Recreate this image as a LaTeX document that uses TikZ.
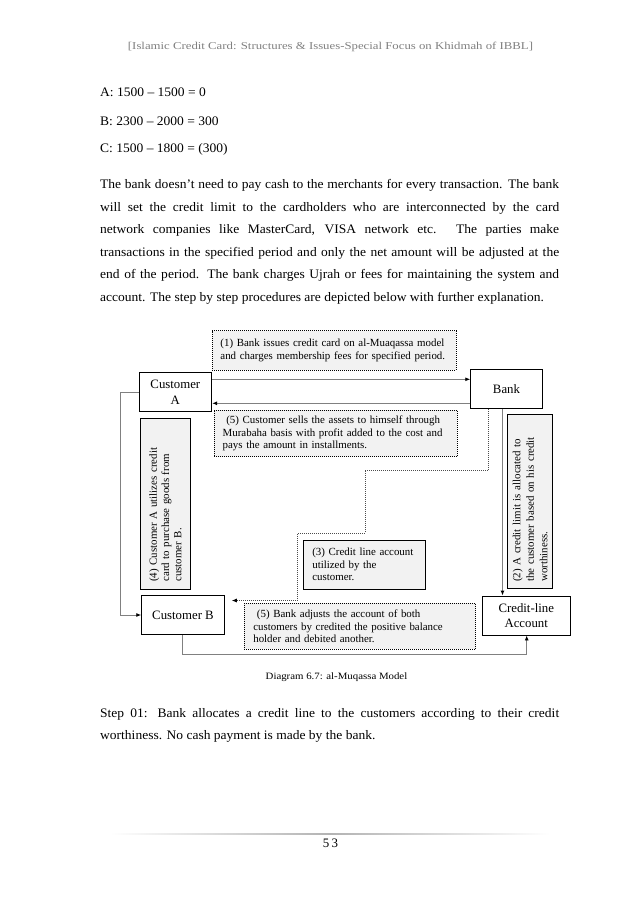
\documentclass[tikz,border=0pt]{standalone}
\usepackage{fontspec}
\setmainfont{Liberation Serif}
\newfontfamily\bodyfont[FakeStretch=1.04]{Liberation Serif}
\usepackage{graphicx}
\usetikzlibrary{arrows.meta}
\definecolor{boxfill}{HTML}{F2F2F2}
\definecolor{conngray}{HTML}{808080}
\definecolor{headgray}{HTML}{808080}
\tikzset{
  entity/.style={draw=black, line width=0.9pt, fill=white, inner sep=0pt, align=center, font=\fontsize{12.8}{15.5}\selectfont},
  note/.style={draw=black, line width=0.7pt, fill=boxfill, align=left, font=\fontsize{10.9}{12.6}\selectfont, inner ysep=0pt},
  dotnote/.style={note, dash pattern=on 1pt off 1pt, line width=0.8pt},
  conn/.style={draw=conngray, line width=0.9pt, -{Latex[length=5pt,width=4pt,color=black]}},
  dconn/.style={draw=black!70, dash pattern=on 1pt off 1pt, line width=0.8pt, -{Latex[length=5pt,width=4pt,color=black]}},
  bodyline/.style={anchor=base west, inner sep=0pt, font=\bodyfont\fontsize{13}{15}\selectfont},
}
\begin{document}
\begin{tikzpicture}[x=1pt,y=-1pt]
\useasboundingbox[fill=white] (0,0) rectangle (638,903);

% header
\node[anchor=base, inner sep=0pt, text=headgray, font=\fontsize{10.5}{12}\selectfont] (hdr) at (330.5,49.5)
  {\resizebox{405pt}{\height}{[Islamic Credit Card: Structures \& Issues-Special Focus on Khidmah of IBBL]}};

% body text
\node[bodyline] (la) at (100,96) {A: 1500 – 1500 = 0};
\node[bodyline] (lb) at (100,125) {B: 2300 – 2000 = 300};
\node[bodyline] (lc) at (100,152.5) {C: 1500 – 1800 = (300)};
\node[bodyline] (p1) at (100,188.5) {\makebox[459pt][s]{The bank doesn’t need to pay cash to the merchants for every transaction. The bank}};
\node[bodyline] (p2) at (100,211) {\makebox[459pt][s]{will set the credit limit to the cardholders who are interconnected by the card}};
\node[bodyline] (p3) at (100,233.5) {\makebox[459pt][s]{network companies like MasterCard, VISA network etc. The parties make}};
\node[bodyline] (p4) at (100,256) {\makebox[459pt][s]{transactions in the specified period and only the net amount will be adjusted at the}};
\node[bodyline] (p5) at (100,278.5) {\makebox[459pt][s]{end of the period. The bank charges Ujrah or fees for maintaining the system and}};
\node[bodyline] (p6) at (100,301) {account. The step by step procedures are depicted below with further explanation.};

% entities
\node[entity, minimum width=72.7, minimum height=39] (cA) at (175.35,392.2) {Customer\\A};
\node[entity, minimum width=71.6, minimum height=39] (bank) at (506.5,388.8) {Bank};
\node[entity, minimum width=82.6, minimum height=38.6] (cB) at (183,615) {Customer B};
\node[entity, minimum width=87.5, minimum height=39] (cl) at (526.25,615.5) {Credit-line\\Account};

% notes
\node[dotnote, text width=227.4, inner xsep=8.15, minimum height=39.3] (n1) at (334.15,350.35)
  {(1) Bank issues credit card on al-Muaqassa model\\and charges membership fees for specified period.};
\node[dotnote, text width=225.9, inner xsep=8.7, minimum height=46.7] (n5a) at (335.65,433.35)
  {\ (5) Customer sells the assets to himself through\\Murabaha basis with profit added to the cost and\\pays the amount in installments.};
\node[note, text width=104.4, inner xsep=9, minimum height=49.3] (n3) at (364.5,564.65)
  {(3) Credit line account\\utilized by the\\customer.};
\node[dotnote, text width=213.4, inner xsep=9, minimum height=46] (n5b) at (360,626.3)
  {\ (5) Bank adjusts the account of both\\customers by credited the positive balance\\holder and debited another.};
\node[note, rotate=90, text width=156, inner xsep=7.35, minimum height=49.3, font=\fontsize{10.9}{12.2}\selectfont] (n4) at (165.35,503.65)
  {(4) Customer A utilizes credit\\card to purchase goods from\\customer B.};
\node[note, rotate=90, text width=160.8, inner xsep=6.6, minimum height=44.8, font=\fontsize{10.9}{13.5}\selectfont] (n2) at (530.1,501.3)
  {(2) A credit limit is allocated to\\the customer based on his credit\\worthiness.};

% connectors
\draw[conn] (cA.east |- 0,379.3) -- (bank.west |- 0,379.3);
\draw[conn] (bank.west |- 0,403.3) -- (cA.east |- 0,403.3);
\draw[conn] (cA.west) -- ++(-18.5,0) |- (cB.west);
\draw[conn] (bank.south -| 502.5,0) -- (cl.north -| 502.5,0);
\draw[dconn, shorten >=7pt] (bank.south -| 488.3,0) -- (488.3,470) -- (365,470) -- (365,533.3) -- (297.3,533.3) -- (297.3,600.5) -- (cB.east |- 0,600.5);
\draw[conn] (cB.south -| 182.3,0) -- (182.3,654) -| (cl.south -| 526.7,0);

% caption
\node[anchor=base, inner sep=0pt, font=\fontsize{9.7}{11}\selectfont] (cap) at (336.5,679)
  {\resizebox{141.6pt}{\height}{Diagram 6.7: al-Muqassa Model}};

% step text
\node[bodyline] (s1) at (100,717.2) {\makebox[459pt][s]{Step 01: Bank allocates a credit line to the customers according to their credit}};
\node[bodyline] (s2) at (100,739.7) {worthiness. No cash payment is made by the bank.};

% footer
\shade[left color=white, right color=white, middle color=gray!60] (110,833.6) rectangle (550,834.6);
\node[anchor=base, inner sep=0pt, font=\fontsize{12.9}{15}\selectfont] (pg) at (330.5,847.5) {5\,3};
\end{tikzpicture}
\end{document}
